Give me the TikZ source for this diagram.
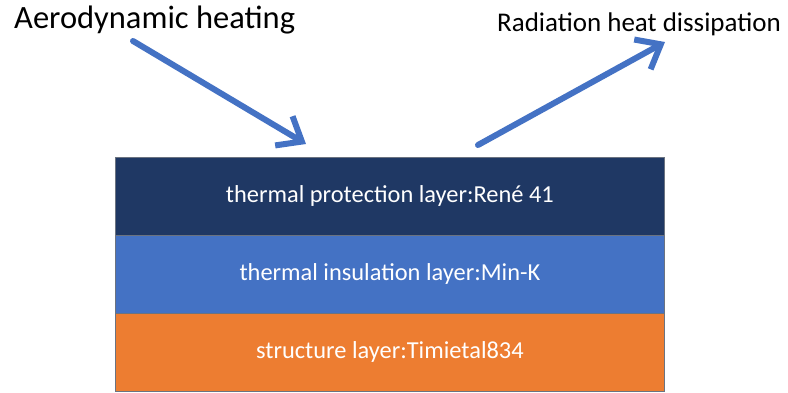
\documentclass[tikz,border=0pt]{standalone}
\usepackage{fontspec}
\setmainfont{Carlito}
\usetikzlibrary{arrows.meta}
\definecolor{darkblue}{HTML}{1F3864}
\definecolor{midblue}{HTML}{4472C4}
\definecolor{orangel}{HTML}{ED7D31}
\definecolor{edgegray}{HTML}{6B7380}
\tikzset{
  layer/.style={draw=edgegray, line width=0.8pt, minimum width=549pt, minimum height=78pt, inner sep=0pt, text=white, font=\fontsize{24.4}{28}\selectfont, anchor=north west},
  heatarrow/.style={draw=midblue, line width=6pt, line cap=round, -{Straight Barb[length=21pt,width=34pt,line width=6pt]}},
  lbl/.style={inner sep=0pt, text=black, anchor=base west}
}
\begin{document}
\begin{tikzpicture}[x=1pt,y=-1pt]
\useasboundingbox (0,0) rectangle (788,392);
\node[layer, fill=darkblue] (prot) at (115,157) {thermal protection layer:René 41};
\node[layer, fill=midblue] (ins) at (115,235) {thermal insulation layer:Min-K};
\node[layer, fill=orangel] (str) at (115,313) {structure layer:Timietal834};
\node[lbl, font=\fontsize{32.5}{36}\selectfont] (aero) at (14,28) {Aerodynamic heating};
\node[lbl, font=\fontsize{27}{31}\selectfont] (rad) at (497,31) {Radiation heat dissipation};
\coordinate (a1s) at (133,41);
\coordinate (a1e) at (306,144);
\coordinate (a2s) at (478,145);
\coordinate (a2e) at (665,42);
\draw[heatarrow] (a1s) -- (a1e);
\draw[heatarrow] (a2s) -- (a2e);
\end{tikzpicture}
\end{document}
